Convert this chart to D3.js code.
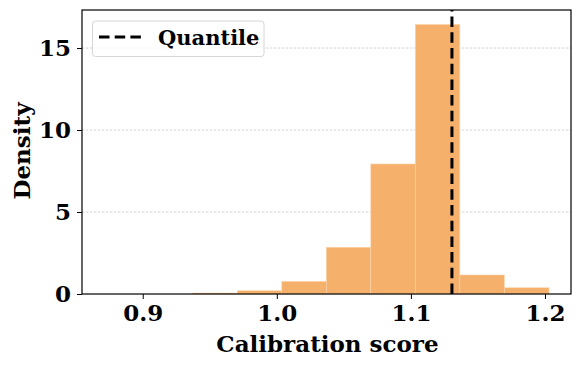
<!DOCTYPE html>
<html><head><meta charset="utf-8">
<script src="https://cdn.jsdelivr.net/npm/d3@7"></script>
<style>body{margin:0;background:#fff}</style>
</head><body>
<svg id="c" width="582" height="366"></svg>
<script>
// Data
const binEdges = [0.9373, 0.9705, 1.0037, 1.0369, 1.0701, 1.1033, 1.1365, 1.1697, 1.2030];
const densities = [0.06, 0.2, 0.77, 2.85, 7.93, 16.44, 1.16, 0.38];
const quantile = 1.1306;
const xTicks = [0.9, 1.0, 1.1, 1.2];
const yTicks = [0, 5, 10, 15];
const legendLabels = ["Quantile"];

const svg = d3.select("#c");
const m = {l: 82, r: 571, t: 10, b: 294};
const x = d3.scaleLinear().domain([0.8547, 1.2194]).range([m.l, m.r]);
const y = d3.scaleLinear().domain([0, 17.32]).range([m.b, m.t]);
const font = "'DejaVu Serif', serif";

// grid
svg.append("g").selectAll("line").data(yTicks.filter(d => d > 0)).join("line")
  .attr("x1", m.l).attr("x2", m.r).attr("y1", d => y(d)).attr("y2", d => y(d))
  .attr("stroke", "#c8c8c8").attr("stroke-width", 0.8).attr("stroke-dasharray", "2.5,1.5");

// bars
const bins = densities.map((d, i) => ({x0: binEdges[i], x1: binEdges[i + 1], v: d}));
svg.append("g").selectAll("rect").data(bins).join("rect")
  .attr("x", d => x(d.x0)).attr("width", d => x(d.x1) - x(d.x0))
  .attr("y", d => y(d.v)).attr("height", d => y(0) - y(d.v))
  .attr("fill", "#f5b06b").attr("stroke", "#fbd5ad").attr("stroke-width", 0.6);

// quantile line
svg.append("line").attr("x1", x(quantile)).attr("x2", x(quantile))
  .attr("y1", m.b).attr("y2", m.t)
  .attr("stroke", "#000").attr("stroke-width", 3).attr("stroke-dasharray", "10.5,5.2");

// axes
const xAxis = svg.append("g").attr("transform", `translate(0,${m.b})`)
  .call(d3.axisBottom(x).tickValues(xTicks).tickFormat(d3.format(".1f")).tickSize(5).tickPadding(6));
const yAxis = svg.append("g").attr("transform", `translate(${m.l},0)`)
  .call(d3.axisLeft(y).tickValues(yTicks).tickFormat(d3.format("d")).tickSize(5).tickPadding(6));
[xAxis, yAxis].forEach(g => {
  g.select(".domain").remove();
  g.selectAll("line").attr("stroke", "#000").attr("stroke-width", 1);
  g.selectAll("text").attr("font-family", font).attr("font-weight", "bold")
    .attr("font-size", 23).attr("fill", "#000");
});

// frame
svg.append("rect").attr("x", m.l).attr("y", m.t).attr("width", m.r - m.l).attr("height", m.b - m.t)
  .attr("fill", "none").attr("stroke", "#000").attr("stroke-width", 1.2);

// labels
svg.append("text").attr("x", (m.l + m.r) / 2 + 1).attr("y", 352)
  .attr("text-anchor", "middle").attr("font-family", font).attr("font-weight", "bold")
  .attr("font-size", 23).text("Calibration score");
svg.append("text").attr("transform", `translate(30,${(m.t + m.b) / 2 - 1}) rotate(-90)`)
  .attr("text-anchor", "middle").attr("font-family", font).attr("font-weight", "bold")
  .attr("font-size", 23).text("Density");

// legend
const lg = svg.append("g");
lg.append("rect").attr("x", 92.5).attr("y", 21).attr("width", 171.5).attr("height", 35.5).attr("rx", 3)
  .attr("fill", "#fff").attr("fill-opacity", 0.8).attr("stroke", "#d6d6d6").attr("stroke-width", 1);
lg.append("line").attr("x1", 99).attr("x2", 142).attr("y1", 37).attr("y2", 37)
  .attr("stroke", "#000").attr("stroke-width", 3).attr("stroke-dasharray", "10.5,5.2");
lg.append("text").attr("x", 158).attr("y", 45).attr("font-family", font).attr("font-weight", "bold")
  .attr("font-size", 21).text(legendLabels[0]);
</script>
</body></html>
